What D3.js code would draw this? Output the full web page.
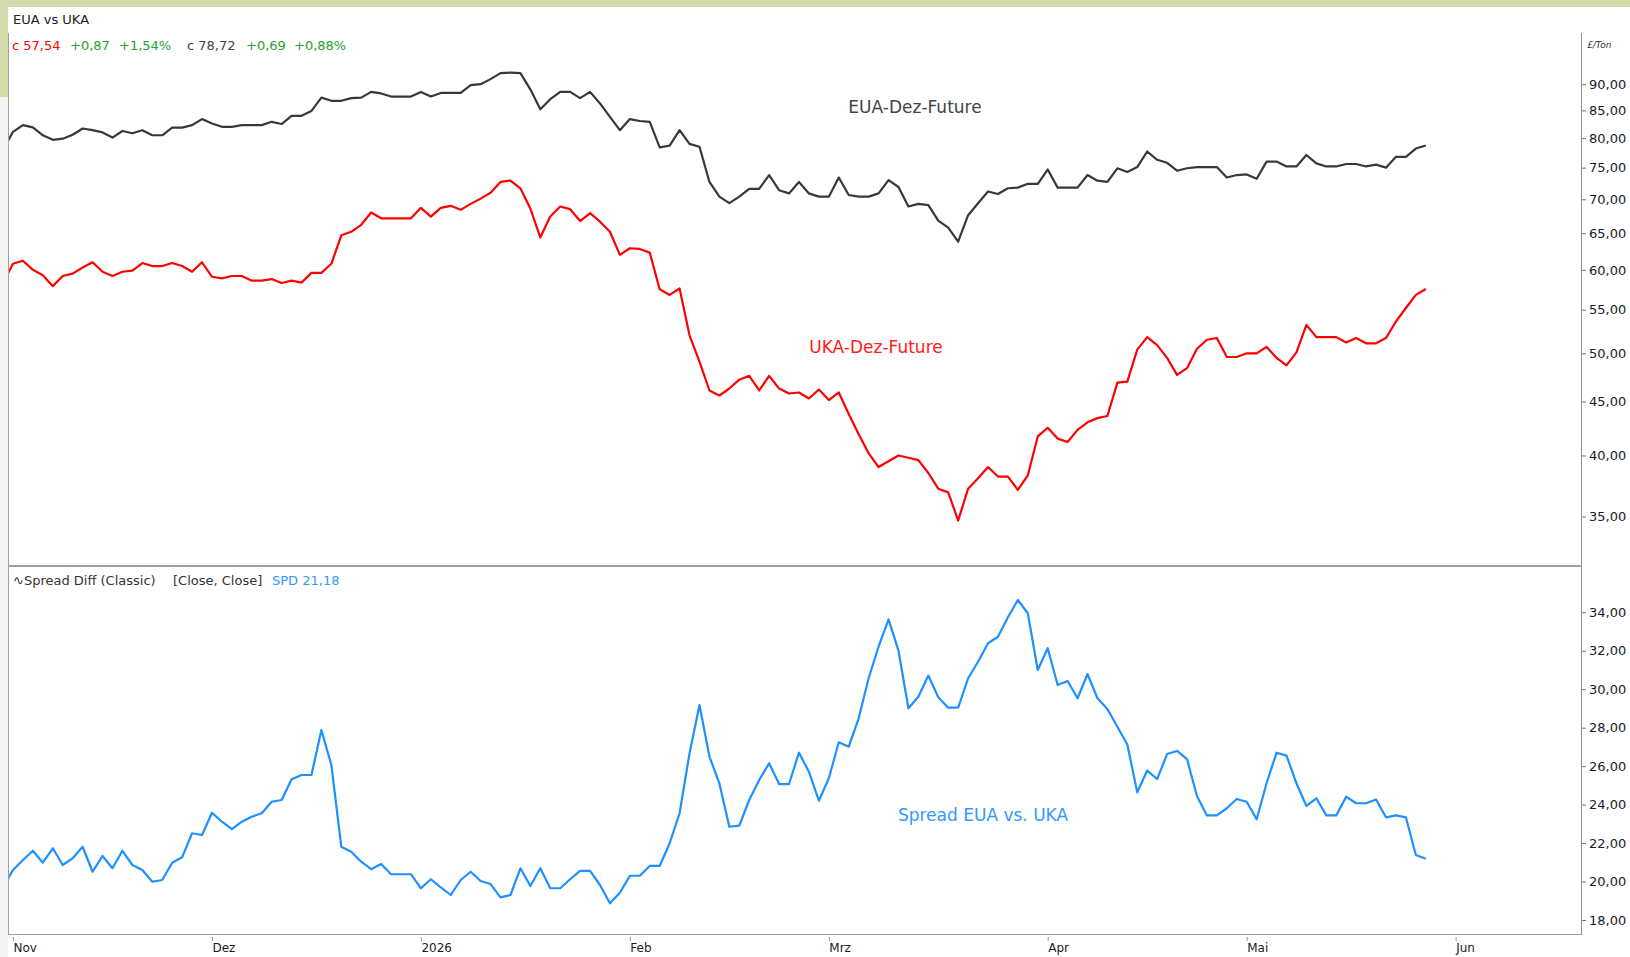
<!DOCTYPE html>
<html>
<head>
<meta charset="utf-8">
<style>
  body {margin: 0; background: #fff; font-family: "DejaVu Sans", sans-serif;}
  svg {display: block;}
</style>
<script src="https://d3js.org/d3.v7.min.js"></script>
</head>
<body>
<div id="chart"></div>
<script>

const width = 1630
const height = 957

// trading calendar: weekdays without exchange holidays, first bar is 31 Oct 2025
const calendarStart = new Date(2025, 9, 31)
const calendarEnd = new Date(2026, 5, 30)
const holidays = ['2025-12-25', '2025-12-26', '2026-01-01', '2026-04-03', '2026-04-06']

const monthLabels = ['Nov', 'Dez', '2026', 'Feb', 'Mrz', 'Apr', 'Mai', 'Jun']

const euaClose = [
  78.0, 81.1, 82.3, 81.9, 80.5, 79.7, 79.9, 80.6, 81.7, 81.4, 81.0, 80.1, 81.25, 80.85, 81.4, 80.5, 80.5,
  81.85, 81.85, 82.3, 83.4, 82.6, 82.0, 82.0, 82.3, 82.3, 82.3, 82.9, 82.5, 84.0, 84.0, 84.9, 87.4,
  86.8, 86.8, 87.3, 87.4, 88.5, 88.2, 87.6, 87.6, 87.6, 88.5, 87.6, 88.3, 88.3, 88.3, 89.8, 90.0,
  91.0, 92.2, 92.3, 92.2, 89.0, 85.2, 87.1, 88.5, 88.5, 87.3, 88.5, 86.3, 83.8, 81.4, 83.4, 83.05,
  82.9, 78.4, 78.7, 81.4, 79.0, 78.5, 72.7, 70.4, 69.4, 70.4, 71.6, 71.6, 73.8, 71.4, 70.9, 72.7,
  70.9, 70.4, 70.4, 73.4, 70.65, 70.4, 70.4, 70.9, 73.0, 71.9, 68.9, 69.3, 69.1, 66.8, 65.8, 63.8,
  67.6, 69.4, 71.2, 70.8, 71.7, 71.8, 72.4, 72.4, 74.7, 71.8, 71.8, 71.8, 73.8, 72.9, 72.7, 74.9,
  74.3, 75.1, 77.7, 76.3, 75.8, 74.5, 74.9, 75.1, 75.1, 75.1, 73.4, 73.8, 73.9, 73.2, 76.0, 76.0,
  75.2, 75.2, 77.1, 75.7, 75.2, 75.2, 75.6, 75.6, 75.2, 75.5, 75.0, 76.8, 76.8, 78.2, 78.72
]

const ukaClose = [
  58.3, 60.8, 61.2, 60.0, 59.3, 57.9, 59.2, 59.5, 60.3, 61.0, 59.75, 59.2, 59.75, 59.9, 60.9, 60.5, 60.5,
  60.9, 60.5, 59.75, 61.0, 59.1, 58.9, 59.2, 59.2, 58.6, 58.6, 58.8, 58.3, 58.6, 58.35, 59.6, 59.6,
  60.8, 64.7, 65.2, 66.2, 68.0, 67.15, 67.15, 67.15, 67.15, 68.7, 67.4, 68.7, 69.0, 68.4, 69.3, 70.1,
  71.0, 72.7, 72.9, 71.7, 68.6, 64.4, 67.4, 68.9, 68.5, 66.75, 67.9, 66.65, 65.2, 62.0, 62.9, 62.8,
  62.3, 57.5, 56.8, 57.6, 52.0, 49.1, 46.1, 45.6, 46.3, 47.2, 47.6, 46.1, 47.6, 46.3, 45.8, 45.9,
  45.3, 46.2, 45.15, 45.9, 43.8, 41.9, 40.2, 39.0, 39.5, 40.0, 39.8, 39.6, 38.5, 37.2, 36.9, 34.7,
  37.2, 38.05, 39.0, 38.2, 38.2, 37.1, 38.3, 41.7, 42.5, 41.5, 41.2, 42.3, 43.0, 43.4, 43.6, 46.9,
  47.0, 50.4, 51.8, 50.9, 49.5, 47.7, 48.4, 50.5, 51.5, 51.7, 49.6, 49.6, 50.0, 50.0, 50.7, 49.5,
  48.7, 50.1, 53.2, 51.8, 51.8, 51.8, 51.2, 51.7, 51.1, 51.1, 51.7, 53.6, 55.2, 56.8, 57.54
]

const spreadClose = [
  19.7, 20.6, 21.12, 21.6, 20.98, 21.73, 20.86, 21.21, 21.81, 20.51, 21.33, 20.69, 21.6, 20.86, 20.6, 19.99, 20.08,
  20.98, 21.26, 22.51, 22.42, 23.58, 23.11, 22.72, 23.11, 23.37, 23.55, 24.15, 24.24, 25.32, 25.54, 25.54, 27.88,
  26.06, 21.81, 21.55, 21.03, 20.64, 20.91, 20.38, 20.38, 20.38, 19.65, 20.12, 19.7, 19.3, 20.08, 20.51, 20.03,
  19.87, 19.18, 19.3, 20.69, 19.77, 20.69, 19.65, 19.65, 20.12, 20.55, 20.55, 19.82, 18.87, 19.42, 20.3, 20.3,
  20.81, 20.81, 21.99, 23.55, 26.67, 29.18, 26.5, 25.1, 22.85, 22.91, 24.24, 25.28, 26.15, 25.07, 25.07, 26.7,
  25.71, 24.2, 25.37, 27.24, 27.01, 28.49, 30.57, 32.21, 33.63, 32.01, 29.01, 29.61, 30.71, 29.58, 29.04, 29.04,
  30.57, 31.43, 32.39, 32.73, 33.74, 34.64, 33.95, 31.0, 32.13, 30.22, 30.43, 29.53, 30.79, 29.53, 28.97, 28.05,
  27.13, 24.64, 25.77, 25.33, 26.63, 26.79, 26.37, 24.45, 23.44, 23.44, 23.81, 24.29, 24.15, 23.24, 25.11, 26.7,
  26.55, 25.11, 23.93, 24.33, 23.44, 23.44, 24.41, 24.07, 24.07, 24.27, 23.34, 23.44, 23.34, 21.38, 21.18
]

const priceTicks = [35, 40, 45, 50, 55, 60, 65, 70, 75, 80, 85, 90]
const spreadTicks = [18, 20, 22, 24, 26, 28, 30, 32, 34]

// build the list of trading days
const fmtDay = d3.timeFormat('%Y-%m-%d')
const tradingDays = d3.timeDay.range(calendarStart, calendarEnd)
  .filter(d => d.getDay() !== 0 && d.getDay() !== 6 && !holidays.includes(fmtDay(d)))

// first trading day of every month from Nov on
const monthStarts = []
tradingDays.forEach((d, i) => {
  if (i === 0) return
  if (d.getMonth() !== tradingDays[i - 1].getMonth()) monthStarts.push(i)
})

const comma = v => d3.format('.2f')(v).replace('.', ',')

// layout
const plotLeft = 9
const plotRight = 1581
const topY = 33
const splitY = 566
const bottomY = 934
const font = '"DejaVu Sans", sans-serif'

const svg = d3.select('#chart').append('svg')
  .attr('width', width)
  .attr('height', height)
  .attr('font-family', font)

svg.append('rect').attr('width', width).attr('height', height).attr('fill', '#fff')
// window chrome
svg.append('rect').attr('x', 0).attr('y', 0).attr('width', width).attr('height', 7).attr('fill', '#d3dbad')
svg.append('rect').attr('x', 0).attr('y', 0).attr('width', 8).attr('height', 97).attr('fill', '#d3dbad')
svg.append('rect').attr('x', 0).attr('y', 97).attr('width', 8).attr('height', height - 97).attr('fill', '#f4f4f4')

const x = d3.scaleLinear()
  .domain([0.6, 158.6])     // index 1 = first day of Nov
  .range([plotLeft, plotRight])

const yPrice = d3.scaleLog()
  .domain([35, 90])
  .range([516.6, 84.2])

const ySpread = d3.scaleLinear()
  .domain([18, 34])
  .range([920, 612.3])

const defs = svg.append('defs')
defs.append('clipPath').attr('id', 'clipTop')
  .append('rect').attr('x', plotLeft).attr('y', topY).attr('width', plotRight - plotLeft).attr('height', splitY - topY)
defs.append('clipPath').attr('id', 'clipBottom')
  .append('rect').attr('x', plotLeft).attr('y', splitY).attr('width', plotRight - plotLeft).attr('height', bottomY - splitY)

// frame
const frame = svg.append('g').attr('stroke', '#a0a0a0').attr('fill', 'none')
frame.append('line').attr('x1', plotLeft - 0.5).attr('x2', plotLeft - 0.5).attr('y1', topY).attr('y2', bottomY)
frame.append('line').attr('x1', plotRight + 0.5).attr('x2', plotRight + 0.5).attr('y1', topY).attr('y2', bottomY).attr('stroke', '#909090')
frame.append('line').attr('x1', plotLeft - 1).attr('x2', plotRight + 1).attr('y1', splitY).attr('y2', splitY).attr('stroke-width', 2)
frame.append('line').attr('x1', plotLeft - 1).attr('x2', plotRight + 1).attr('y1', bottomY + 0.5).attr('y2', bottomY + 0.5)

// right axes
const priceAxis = svg.append('g')
  .attr('transform', 'translate(' + (plotRight + 1) + ',0)')
  .call(d3.axisRight(yPrice).tickValues(priceTicks).tickFormat(comma).tickSize(4).tickPadding(3))
const spreadAxis = svg.append('g')
  .attr('transform', 'translate(' + (plotRight + 1) + ',0)')
  .call(d3.axisRight(ySpread).tickValues(spreadTicks).tickFormat(comma).tickSize(4).tickPadding(3))

;[priceAxis, spreadAxis].forEach(ax => {
  ax.select('.domain').remove()
  ax.selectAll('line').attr('stroke', '#777')
  ax.selectAll('text').attr('font-size', 13).attr('fill', '#1a1a2a').attr('font-family', font)
})

svg.append('text')
  .attr('x', 1587).attr('y', 48)
  .attr('font-size', 9).attr('font-style', 'italic').attr('fill', '#333')
  .text('£/Ton')

// time axis
const timeAxis = svg.append('g')
  .attr('transform', 'translate(0,' + (bottomY + 3) + ')')
  .call(d3.axisBottom(x).tickValues(monthStarts).tickSize(4).tickPadding(2).tickFormat((d, i) => monthLabels[i]))
timeAxis.select('.domain').remove()
timeAxis.selectAll('line').attr('stroke', '#999')
timeAxis.selectAll('text')
  .attr('text-anchor', 'start')
  .attr('font-size', 12)
  .attr('fill', '#1a1a2a')
  .attr('dy', '0.71em')
  .attr('font-family', font)

// series
const priceLine = d3.line()
  .x((d, i) => x(i))
  .y(d => yPrice(d))

const spreadLine = d3.line()
  .x((d, i) => x(i))
  .y(d => ySpread(d))

const topG = svg.append('g').attr('clip-path', 'url(#clipTop)')
topG.append('path')
  .datum(euaClose)
  .attr('d', priceLine)
  .attr('fill', 'none')
  .attr('stroke', '#383838')
  .attr('stroke-width', 2.2)
  .attr('stroke-linejoin', 'round')

topG.append('path')
  .datum(ukaClose)
  .attr('d', priceLine)
  .attr('fill', 'none')
  .attr('stroke', '#ff0000')
  .attr('stroke-width', 2.2)
  .attr('stroke-linejoin', 'round')

const bottomG = svg.append('g').attr('clip-path', 'url(#clipBottom)')
bottomG.append('path')
  .datum(spreadClose)
  .attr('d', spreadLine)
  .attr('fill', 'none')
  .attr('stroke', '#1e90ff')
  .attr('stroke-width', 2.2)
  .attr('stroke-linejoin', 'round')

// labels inside the panels
svg.append('text').attr('x', 915).attr('y', 108).attr('text-anchor', 'middle').attr('dominant-baseline', 'middle')
  .attr('font-size', 17).attr('fill', '#444').text('EUA-Dez-Future')
svg.append('text').attr('x', 876).attr('y', 348).attr('text-anchor', 'middle').attr('dominant-baseline', 'middle')
  .attr('font-size', 17).attr('fill', '#ff1a1a').text('UKA-Dez-Future')
svg.append('text').attr('x', 983).attr('y', 816).attr('text-anchor', 'middle').attr('dominant-baseline', 'middle')
  .attr('font-size', 17).attr('fill', '#3399ff').text('Spread EUA vs. UKA')

// header texts
svg.append('text').attr('x', 13).attr('y', 24).attr('font-size', 13).attr('fill', '#222').text('EUA vs UKA')

const last = euaClose.length - 1
const fmtChg = v => (v >= 0 ? '+' : '') + comma(v)
const header = [
  {x: 12, t: 'c ' + comma(ukaClose[last]), c: '#ff0000'},
  {x: 70, t: fmtChg(0.87), c: '#22a22c'},
  {x: 119, t: '+1,54%', c: '#22a22c'},
  {x: 187, t: 'c ' + comma(euaClose[last]), c: '#444'},
  {x: 246, t: fmtChg(0.69), c: '#22a22c'},
  {x: 294, t: '+0,88%', c: '#22a22c'}
]
svg.append('g').selectAll('text')
  .data(header)
  .enter().append('text')
  .attr('x', d => d.x)
  .attr('y', 50)
  .attr('font-size', 13)
  .attr('fill', d => d.c)
  .text(d => d.t)

const subLabels = [
  {x: 13, t: '∿Spread Diff (Classic)', c: '#333'},
  {x: 173, t: '[Close, Close]', c: '#333'},
  {x: 272, t: 'SPD ' + comma(spreadClose[last]), c: '#3399ff'}
]
svg.append('g').selectAll('text')
  .data(subLabels)
  .enter().append('text')
  .attr('x', d => d.x)
  .attr('y', 585)
  .attr('font-size', 13)
  .attr('fill', d => d.c)
  .text(d => d.t)

</script>
</body>
</html>
